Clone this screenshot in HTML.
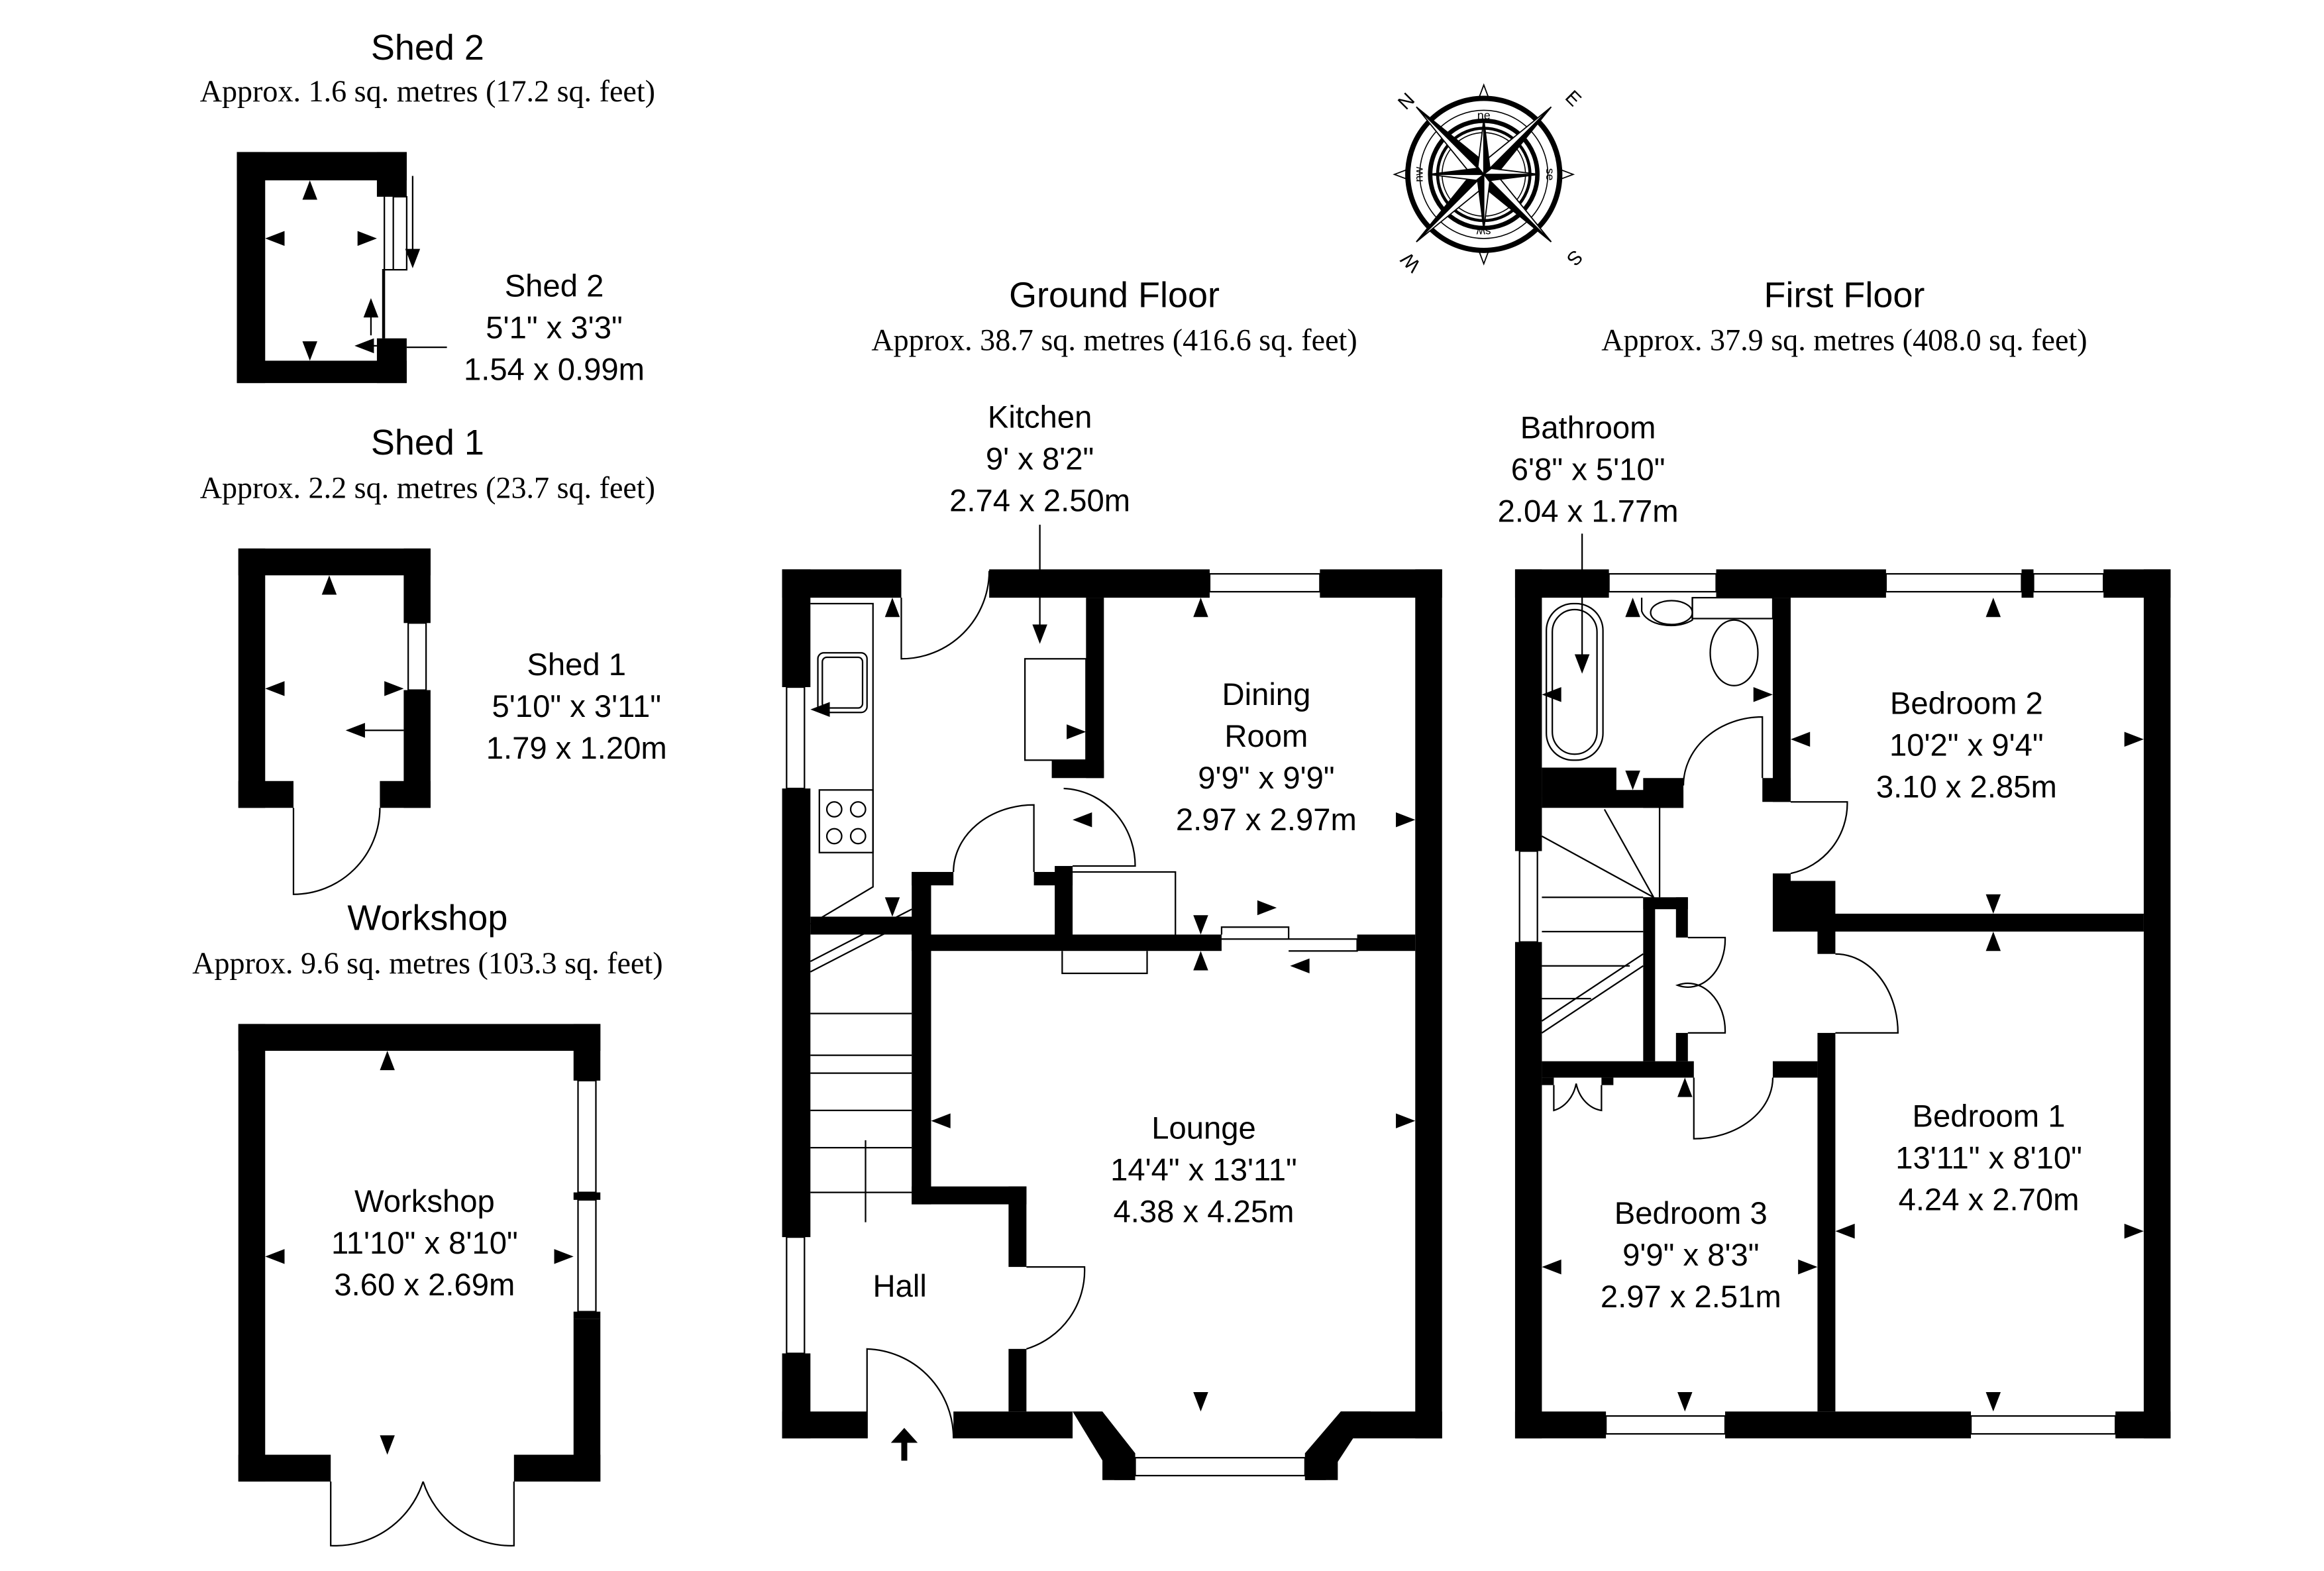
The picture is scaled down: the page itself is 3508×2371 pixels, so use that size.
<!DOCTYPE html>
<html><head><meta charset="utf-8"><style>
html,body{margin:0;padding:0;background:#fff}
svg{display:block}
text{font-family:"Liberation Sans",sans-serif;fill:#000}
.t{font-size:24px;text-anchor:middle}
.s{font-family:"Liberation Serif",serif;font-size:20.5px;text-anchor:middle}
.r{font-size:21px;text-anchor:middle}
</style></head><body>
<svg width="3508" height="2371" viewBox="0 0 1560 1054" preserveAspectRatio="none" xmlns="http://www.w3.org/2000/svg">
<defs>
<path id="au" d="M0 0 l-5 13 h10z"/>
<path id="ad" d="M0 0 l-5 -13 h10z"/>
<path id="al" d="M0 0 l13 -5 v10z"/>
<path id="ar" d="M0 0 l-13 -5 v10z"/>
</defs>
<rect width="1560" height="1054" fill="#fff"/>
<g fill="#000">
<rect x="159" y="102" width="114" height="19"/><rect x="159" y="102" width="19" height="155"/><rect x="159" y="242" width="114" height="15"/>
<rect x="253" y="102" width="20" height="30"/><rect x="253" y="227" width="20" height="30"/>
<rect x="160" y="368" width="129" height="18"/><rect x="160" y="368" width="18" height="174"/><rect x="271" y="368" width="18" height="50"/><rect x="271" y="463" width="18" height="79"/>
<rect x="160" y="524" width="37" height="18"/><rect x="255" y="524" width="34" height="18"/>
<rect x="160" y="687" width="243" height="18"/><rect x="160" y="687" width="18" height="307"/><rect x="385" y="687" width="18" height="38"/><rect x="385" y="885" width="18" height="109"/>
<rect x="160" y="976" width="62" height="18"/><rect x="345" y="976" width="58" height="18"/>
<rect x="385" y="800" width="18" height="5"/><rect x="385" y="880" width="18" height="5"/>
<rect x="525" y="382" width="80" height="19"/><rect x="664" y="382" width="148" height="19"/><rect x="886" y="382" width="82" height="19"/>
<rect x="525" y="382" width="19" height="79"/><rect x="525" y="529" width="19" height="301"/><rect x="525" y="908" width="19" height="57"/>
<rect x="950" y="382" width="18" height="583"/>
<rect x="525" y="947" width="57" height="18"/><rect x="640" y="947" width="80" height="18"/><rect x="900" y="947" width="68" height="18"/>
<polygon points="720,947 740,947 762,975 762,993 748,993"/>
<polygon points="900,947 920,947 890,993 876,993 876,975"/>
<rect x="740" y="975" width="22" height="18"/><rect x="876" y="975" width="22" height="18"/>
<rect x="544" y="615" width="70" height="12"/>
<rect x="612" y="585" width="13" height="223"/><rect x="612" y="585" width="28" height="9"/><rect x="612" y="796" width="77" height="12"/><rect x="677" y="796" width="12" height="54"/><rect x="677" y="905" width="12" height="42"/>
<rect x="612" y="627" width="208" height="11"/><rect x="911" y="627" width="39" height="11"/>
<rect x="694" y="585" width="26" height="9"/><rect x="708" y="581" width="12" height="50"/>
<rect x="729" y="401" width="12" height="121"/><rect x="706" y="510" width="35" height="12"/>
<rect x="1017" y="382" width="63" height="19"/><rect x="1152" y="382" width="114" height="19"/><rect x="1357" y="382" width="8" height="19"/><rect x="1412" y="382" width="45" height="19"/>
<rect x="1017" y="382" width="18" height="189"/><rect x="1017" y="632" width="18" height="333"/>
<rect x="1439" y="382" width="18" height="583"/>
<rect x="1017" y="947" width="61" height="18"/><rect x="1158" y="947" width="165" height="18"/><rect x="1420" y="947" width="37" height="18"/>
<rect x="1190" y="401" width="12" height="137"/><rect x="1183" y="522" width="19" height="16"/>
<rect x="1035" y="515" width="50" height="20"/><rect x="1035" y="530" width="95" height="12"/><rect x="1103" y="522" width="27" height="20"/>
<rect x="1190" y="586" width="12" height="39"/><rect x="1190" y="591" width="42" height="34"/><rect x="1228" y="613" width="211" height="12"/>
<rect x="1220" y="613" width="12" height="27"/><rect x="1220" y="693" width="12" height="254"/>
<rect x="1103" y="602" width="8" height="110"/><rect x="1103" y="602" width="30" height="8"/><rect x="1125" y="602" width="8" height="27"/><rect x="1125" y="693" width="8" height="19"/>
<rect x="1035" y="712" width="102" height="11"/><rect x="1190" y="712" width="30" height="11"/>
<rect x="1035" y="723" width="8" height="5"/><rect x="1075" y="723" width="8" height="5"/>
</g>
<g fill="none" stroke="#000" stroke-width="1">
<rect x="812" y="385" width="74" height="12"/><rect x="528" y="461" width="12" height="68"/><rect x="528" y="830" width="12" height="78"/><rect x="762" y="978" width="114" height="12"/>
<rect x="1080" y="385" width="72" height="12"/><rect x="1266" y="385" width="91" height="12"/><rect x="1365" y="385" width="47" height="12"/>
<rect x="1020" y="571" width="12" height="61"/><rect x="1078" y="950" width="80" height="12"/><rect x="1323" y="950" width="97" height="12"/>
<rect x="274" y="418" width="12" height="45"/><rect x="388" y="725" width="12" height="75"/><rect x="388" y="805" width="12" height="75"/>
<path d="M605 401 V442 A59 59 0 0 0 664 383"/><path d="M582 965 V905 A60 60 0 0 1 640 965"/>
<path d="M689 850 H728 A55 55 0 0 1 689 905"/><path d="M197 542 V600 A58 58 0 0 0 255 542"/>
<path d="M222 994 V1037 A62 62 0 0 0 284 994 M345 994 V1037 A62 62 0 0 1 284 994"/>
<path d="M694 585 V540 A54 45 0 0 0 640 585"/><path d="M720 581 H762 A50 52 0 0 0 714 529"/>
<path d="M720 585 H789 V627"/><path d="M713 638 V653 H770 V638"/>
<path d="M820 627 V622 H865 V630 H911 V638 H865 M820 630 H911"/>
<path d="M258 132 V227 M264 132 V181 M264 132 H273 V181 H257 V227"/>
<path d="M1202 538 H1240 A48 48 0 0 1 1202 586"/>
<path d="M1232 693 H1274 A42 53 0 0 0 1232 640"/>
<path d="M1183 522 V481 A53 46 0 0 0 1130 527"/>
<path d="M1133 629 H1158 A25 32 0 0 1 1126 661 A25 32 0 0 1 1158 693 H1133"/>
<path d="M1137 723 V764 A53 41 0 0 0 1190 723"/>
<path d="M1043 728 V745 A20 24 0 0 0 1058 727 A20 24 0 0 0 1075 745 V728"/>
<path d="M544 405 H586 V595 L544 620"/><rect x="549" y="438" width="33" height="40" rx="4"/><rect x="552" y="441" width="27" height="34" rx="3"/>
<rect x="550" y="530" width="36" height="42"/>
<circle cx="560" cy="543" r="5"/><circle cx="576" cy="543" r="5"/><circle cx="560" cy="561" r="5"/><circle cx="576" cy="561" r="5"/>
<rect x="688" y="442" width="41" height="68"/>
<path d="M544 645 L612 610 M544 652 L612 617 M544 680 H612 M544 708 H612 M544 720 H612 M544 745 H612 M544 770 H612 M544 800 H612 M581 765 V820"/>
<rect x="1038" y="405" width="38" height="105" rx="18"/><rect x="1042" y="409" width="30" height="97" rx="15"/>
<ellipse cx="1122" cy="411" rx="14" ry="8"/><path d="M1102 401 V410 A20 12 0 0 0 1136 416 V401"/><ellipse cx="1164" cy="438" rx="16" ry="22"/><rect x="1136" y="401" width="54" height="14"/>
<path d="M1114 535 V602 M1035 561 L1110 602 M1077 543 L1110 602 M1035 602 H1103 M1035 625 H1103 M1035 648 H1094 M1035 670 H1068 M1035 685 L1103 640 M1035 693 L1103 648"/>
</g>
<g fill="#000">
<use href="#au" x="208" y="121"/><use href="#ad" x="208" y="242"/><use href="#al" x="178" y="160"/><use href="#ar" x="253" y="160"/>
<use href="#ad" x="277" y="180"/><use href="#au" x="249" y="200"/><use href="#al" x="238" y="232"/>
<use href="#au" x="221" y="386"/><use href="#al" x="178" y="462"/><use href="#ar" x="271" y="462"/><use href="#al" x="232" y="490"/>
<use href="#au" x="260" y="705"/><use href="#ad" x="260" y="976"/><use href="#al" x="178" y="843"/><use href="#ar" x="385" y="843"/>
<use href="#au" x="806" y="401"/><use href="#ad" x="806" y="627"/><use href="#au" x="806" y="638"/><use href="#ad" x="806" y="947"/><use href="#ar" x="950" y="550"/><use href="#ar" x="950" y="752"/><use href="#al" x="625" y="752"/><use href="#au" x="599" y="401"/><use href="#ad" x="599" y="615"/><use href="#al" x="544" y="476"/><use href="#ar" x="729" y="491"/><use href="#al" x="720" y="550"/><use href="#ad" x="698" y="432"/>
<use href="#ar" x="857" y="609"/><use href="#al" x="866" y="648"/>
<use href="#au" x="1338" y="401"/><use href="#ad" x="1338" y="613"/><use href="#au" x="1338" y="625"/><use href="#ad" x="1338" y="947"/><use href="#al" x="1202" y="496"/><use href="#ar" x="1439" y="496"/><use href="#al" x="1232" y="826"/><use href="#ar" x="1439" y="826"/><use href="#al" x="1035" y="850"/><use href="#ar" x="1220" y="850"/><use href="#au" x="1131" y="723"/><use href="#ad" x="1131" y="947"/><use href="#al" x="1035" y="466"/><use href="#ar" x="1190" y="466"/><use href="#au" x="1096" y="401"/><use href="#ad" x="1096" y="530"/><use href="#ad" x="1062" y="452"/>
<path d="M605 980 v-12 h-7 l9 -10 l9 10 h-7 v12z"/>
</g>
<g transform="translate(996,117)" stroke="#000" fill="none">
<circle r="51" stroke-width="3.5"/><circle r="43" stroke-width="0.7"/><circle r="36" stroke-width="3"/><circle r="31" stroke-width="2"/><circle r="28" stroke-width="0.7"/>
<g stroke-width="0.8">
<g transform="rotate(-45)"><path d="M0 -64 L6 -6 L0 0z" fill="#000"/><path d="M0 -64 L-6 -6 L0 0z" fill="#fff"/></g>
<g transform="rotate(45)"><path d="M0 -64 L6 -6 L0 0z" fill="#000"/><path d="M0 -64 L-6 -6 L0 0z" fill="#fff"/></g>
<g transform="rotate(135)"><path d="M0 -64 L6 -6 L0 0z" fill="#000"/><path d="M0 -64 L-6 -6 L0 0z" fill="#fff"/></g>
<g transform="rotate(225)"><path d="M0 -64 L6 -6 L0 0z" fill="#000"/><path d="M0 -64 L-6 -6 L0 0z" fill="#fff"/></g>
<g transform="rotate(0)"><path d="M0 -37 L4 -5 L0 0z" fill="#000"/><path d="M0 -37 L-4 -5 L0 0z" fill="#fff"/></g>
<g transform="rotate(90)"><path d="M0 -37 L4 -5 L0 0z" fill="#000"/><path d="M0 -37 L-4 -5 L0 0z" fill="#fff"/></g>
<g transform="rotate(180)"><path d="M0 -37 L4 -5 L0 0z" fill="#000"/><path d="M0 -37 L-4 -5 L0 0z" fill="#fff"/></g>
<g transform="rotate(270)"><path d="M0 -37 L4 -5 L0 0z" fill="#000"/><path d="M0 -37 L-4 -5 L0 0z" fill="#fff"/></g>
<path d="M-3 -52 L0 -60 L3 -52 M-3 52 L0 60 L3 52 M52 -3 L60 0 L52 3 M-52 -3 L-60 0 L-52 3"/>
</g>
</g>
<g font-size="8" text-anchor="middle" font-family="Liberation Sans">
<text x="996" y="80">ne</text>
<text transform="translate(1038,117) rotate(90)">se</text>
<text transform="translate(996,153) rotate(180)">sw</text>
<text transform="translate(955,117) rotate(-90)">nw</text>
</g>
<g font-size="13" text-anchor="middle" font-family="Liberation Serif">
<text transform="translate(947,71) rotate(-45)">N</text>
<text transform="translate(1053,69) rotate(45)">E</text>
<text transform="translate(1054,170) rotate(135)">S</text>
<text transform="translate(950,173) rotate(-135)">W</text>
</g>
<text class="t" x="287" y="40">Shed 2</text><text class="s" x="287" y="68">Approx. 1.6 sq. metres (17.2 sq. feet)</text>
<text class="t" x="287" y="305">Shed 1</text><text class="s" x="287" y="334">Approx. 2.2 sq. metres (23.7 sq. feet)</text>
<text class="t" x="287" y="624">Workshop</text><text class="s" x="287" y="653">Approx. 9.6 sq. metres (103.3 sq. feet)</text>
<text class="t" x="748" y="206">Ground Floor</text><text class="s" x="748" y="235">Approx. 38.7 sq. metres (416.6 sq. feet)</text>
<text class="t" x="1238" y="206">First Floor</text><text class="s" x="1238" y="235">Approx. 37.9 sq. metres (408.0 sq. feet)</text>
<g>
<text class="r" x="372" y="199">Shed 2</text><text class="r" x="372" y="227">5'1" x 3'3"</text><text class="r" x="372" y="255">1.54 x 0.99m</text>
<text class="r" x="387" y="453">Shed 1</text><text class="r" x="387" y="481">5'10" x 3'11"</text><text class="r" x="387" y="509">1.79 x 1.20m</text>
<text class="r" x="285" y="813">Workshop</text><text class="r" x="285" y="841">11'10" x 8'10"</text><text class="r" x="285" y="869">3.60 x 2.69m</text>
<text class="r" x="698" y="287">Kitchen</text><text class="r" x="698" y="315">9' x 8'2"</text><text class="r" x="698" y="343">2.74 x 2.50m</text>
<text class="r" x="850" y="473">Dining</text><text class="r" x="850" y="501">Room</text><text class="r" x="850" y="529">9'9" x 9'9"</text><text class="r" x="850" y="557">2.97 x 2.97m</text>
<text class="r" x="808" y="764">Lounge</text><text class="r" x="808" y="792">14'4" x 13'11"</text><text class="r" x="808" y="820">4.38 x 4.25m</text>
<text class="r" x="604" y="870">Hall</text>
<text class="r" x="1066" y="294">Bathroom</text><text class="r" x="1066" y="322">6'8" x 5'10"</text><text class="r" x="1066" y="350">2.04 x 1.77m</text>
<text class="r" x="1320" y="479">Bedroom 2</text><text class="r" x="1320" y="507">10'2" x 9'4"</text><text class="r" x="1320" y="535">3.10 x 2.85m</text>
<text class="r" x="1335" y="756">Bedroom 1</text><text class="r" x="1335" y="784">13'11" x 8'10"</text><text class="r" x="1335" y="812">4.24 x 2.70m</text>
<text class="r" x="1135" y="821">Bedroom 3</text><text class="r" x="1135" y="849">9'9" x 8'3"</text><text class="r" x="1135" y="877">2.97 x 2.51m</text>
</g>
<g stroke="#000" fill="none">
<path d="M698 352 V420"/><path d="M1062 358 V440"/><path d="M273 233 H300"/><path d="M245 490 H271"/>
<path d="M277 118 V168 M249 225 V212 M253 232 H245"/>
</g>
</svg>
</body></html>
